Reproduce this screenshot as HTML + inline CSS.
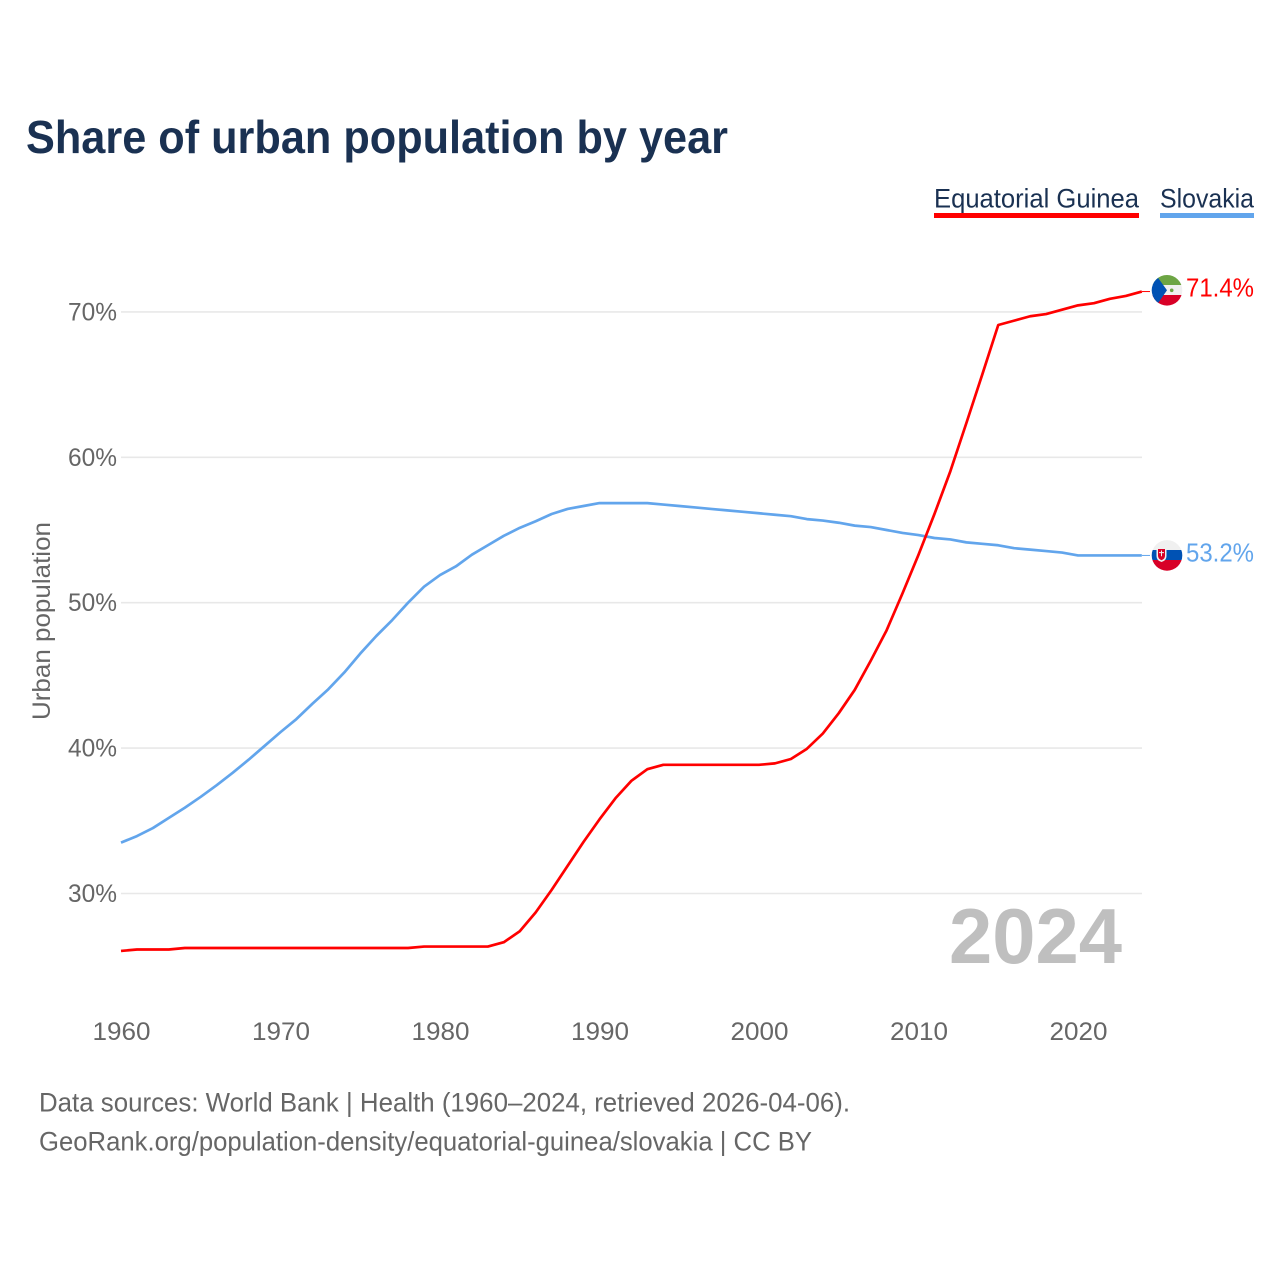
<!DOCTYPE html>
<html lang="en">
<head>
<meta charset="utf-8">
<title>Share of urban population by year</title>
<style>
html,body{margin:0;padding:0;background:#fff;width:1280px;height:1280px;overflow:hidden}
svg{display:block;font-family:"Liberation Sans",sans-serif}
</style>
</head>
<body>
<svg id="chart" width="1280" height="1280" viewBox="0 0 1280 1280" xmlns="http://www.w3.org/2000/svg">
  <defs>
    <clipPath id="flag-clip-gq"><circle cx="1167" cy="290.3" r="15.3"/></clipPath>
    <clipPath id="flag-clip-sk"><circle cx="1167" cy="555.4" r="15.3"/></clipPath>
  </defs>
  <text x="26" y="153" font-size="46" font-weight="700" fill="#1a3152" textLength="702" lengthAdjust="spacingAndGlyphs">Share of urban population by year</text>

  <g>
    <text x="934" y="207.5" font-size="27" fill="#1a3152" textLength="205" lengthAdjust="spacingAndGlyphs">Equatorial Guinea</text>
    <rect x="934" y="213" width="205" height="5" fill="#ff0000"/>
  </g>
  <g>
    <text x="1160" y="207.5" font-size="27" fill="#1a3152" textLength="94" lengthAdjust="spacingAndGlyphs">Slovakia</text>
    <rect x="1160" y="213" width="94" height="5" fill="#62a5ec"/>
  </g>

  <g id="grid"></g>
  <g id="yticks"></g>
  <g id="xticks"></g>
  <text transform="translate(50,621) rotate(-90)" text-anchor="middle" font-size="25" fill="#666" textLength="198" lengthAdjust="spacingAndGlyphs">Urban population</text>

  <text x="1122" y="963" text-anchor="end" font-size="78" font-weight="700" fill="#bfbfbf" textLength="173" lengthAdjust="spacingAndGlyphs">2024</text>

  <g id="series"></g>

  <g clip-path="url(#flag-clip-gq)">
    <rect x="1151" y="275" width="32" height="10" fill="#6da544"/>
    <rect x="1151" y="285" width="32" height="10" fill="#f0f0f0"/>
    <rect x="1151" y="295" width="32" height="11" fill="#d80027"/>
    <polygon points="1151,275 1156,275 1167,290.3 1156,306 1151,306" fill="#0052b4"/>
    <circle cx="1171.7" cy="290.3" r="1.8" fill="#6da544"/>
  </g>
  <g clip-path="url(#flag-clip-sk)">
    <rect x="1151" y="540" width="32" height="10" fill="#f0f0f0"/>
    <rect x="1151" y="550" width="32" height="10" fill="#0052b4"/>
    <rect x="1151" y="560" width="32" height="11" fill="#d80027"/>
    <path d="M1156.5 547.5h10v8.5q0 4.5-5 6q-5-1.5-5-6z" fill="#f0f0f0"/>
    <path d="M1158 549h7v6.8q0 3.2-3.5 4.4q-3.5-1.2-3.5-4.4z" fill="#d80027"/>
    <path d="M1161 550.5h1v1.6h2v1h-2v3.2h-1v-3.2h-2v-1h2z" fill="#f0f0f0"/>
  </g>
  <text id="label-gq" x="1186" y="296.5" font-size="26" fill="#ff0000" textLength="68" lengthAdjust="spacingAndGlyphs"></text>
  <text id="label-sk" x="1186" y="561.5" font-size="26" fill="#62a5ec" textLength="68" lengthAdjust="spacingAndGlyphs"></text>

  <text x="39" y="1111.5" font-size="26.5" fill="#666" textLength="811" lengthAdjust="spacingAndGlyphs">Data sources: World Bank | Health (1960–2024, retrieved 2026-04-06).</text>
  <text x="39" y="1150.5" font-size="26.5" fill="#666" textLength="773" lengthAdjust="spacingAndGlyphs">GeoRank.org/population-density/equatorial-guinea/slovakia | CC BY</text>
</svg>
<script>
const startYear = 1960;
const xTickYears = [1960, 1970, 1980, 1990, 2000, 2010, 2020];
const yTickValues = [30, 40, 50, 60, 70];
const equatorialGuinea = [
  26.05, 26.15, 26.15, 26.15, 26.25, 26.25, 26.25, 26.25, 26.25, 26.25,
  26.25, 26.25, 26.25, 26.25, 26.25, 26.25, 26.25, 26.25, 26.25, 26.35,
  26.35, 26.35, 26.35, 26.35, 26.65, 27.4, 28.7, 30.25, 31.9, 33.55,
  35.1, 36.55, 37.75, 38.55, 38.85, 38.85, 38.85, 38.85, 38.85, 38.85,
  38.85, 38.95, 39.25, 39.95, 41.0, 42.4, 44.0, 46.0, 48.1, 50.65,
  53.3, 56.1, 59.05, 62.35, 65.7, 69.1, 69.4, 69.7, 69.85, 70.15,
  70.45, 70.6, 70.9, 71.1, 71.4
];
const slovakia = [
  33.5, 33.95, 34.5, 35.2, 35.9, 36.65, 37.45, 38.3, 39.2, 40.15,
  41.1, 42.0, 43.05, 44.05, 45.2, 46.5, 47.7, 48.8, 50.0, 51.1,
  51.9, 52.5, 53.3, 53.95, 54.6, 55.15, 55.6, 56.1, 56.45, 56.65,
  56.85, 56.85, 56.85, 56.85, 56.75, 56.65, 56.55, 56.45, 56.35, 56.25,
  56.15, 56.05, 55.95, 55.75, 55.65, 55.5, 55.3, 55.2, 55.0, 54.8,
  54.65, 54.45, 54.35, 54.15, 54.05, 53.95, 53.75, 53.65, 53.55, 53.45,
  53.25, 53.25, 53.25, 53.25, 53.25
];
const endLabelGq = "71.4%";
const endLabelSk = "53.2%";

const NS = "http://www.w3.org/2000/svg";
function xScale(year) { return 121 + (year - 1960) * 15.95; }
function yScale(value) { return 893.5 - (value - 30) * 14.54; }
function svgEl(tag, attrs, parent) {
  const el = document.createElementNS(NS, tag);
  for (const k in attrs) el.setAttribute(k, attrs[k]);
  parent.appendChild(el);
  return el;
}

const grid = document.getElementById("grid");
const yticks = document.getElementById("yticks");
const xticks = document.getElementById("xticks");
const series = document.getElementById("series");

yTickValues.forEach(function (v) {
  const line = svgEl("line", { x1: 121, x2: 1142, y1: yScale(v), y2: yScale(v), stroke: "#e8e8e8", "stroke-width": 1.6 }, grid);
  
  
  const t = svgEl("text", { x: 117, y: yScale(v) + 8.5, "text-anchor": "end", "font-size": 25, fill: "#666", textLength: 49, lengthAdjust: "spacingAndGlyphs" }, yticks);
  
  
  t.textContent = v + "%";
});

xTickYears.forEach(function (y) {
  const t = svgEl("text", { x: xScale(y) + 0.5, y: 1040, "text-anchor": "middle", "font-size": 25, fill: "#666", textLength: 58, lengthAdjust: "spacingAndGlyphs" }, xticks);
  
  
  t.textContent = y;
});

function pointsFor(values) {
  return values.map(function (v, i) { return xScale(startYear + i).toFixed(2) + "," + yScale(v).toFixed(2); }).join(" ");
}
function lastPoint(values) {
  const i = values.length - 1;
  return [xScale(startYear + i), yScale(values[i])];
}

const gqLast = lastPoint(equatorialGuinea);
const skLast = lastPoint(slovakia);

const gqConnector = svgEl("line", { x1: gqLast[0], x2: 1150, y1: gqLast[1], y2: gqLast[1], stroke: "#ff0000", "stroke-width": 1 }, series);


const skConnector = svgEl("line", { x1: skLast[0], x2: 1150, y1: skLast[1], y2: skLast[1], stroke: "#62a5ec", "stroke-width": 1 }, series);



const skLine = svgEl("polyline", { points: pointsFor(slovakia), fill: "none", stroke: "#62a5ec", "stroke-width": 2.7, "stroke-linejoin": "round" }, series);


const gqLine = svgEl("polyline", { points: pointsFor(equatorialGuinea), fill: "none", stroke: "#ff0000", "stroke-width": 2.7, "stroke-linejoin": "round" }, series);



document.getElementById("label-gq").textContent = endLabelGq;
document.getElementById("label-sk").textContent = endLabelSk;
</script>
</body>
</html>
